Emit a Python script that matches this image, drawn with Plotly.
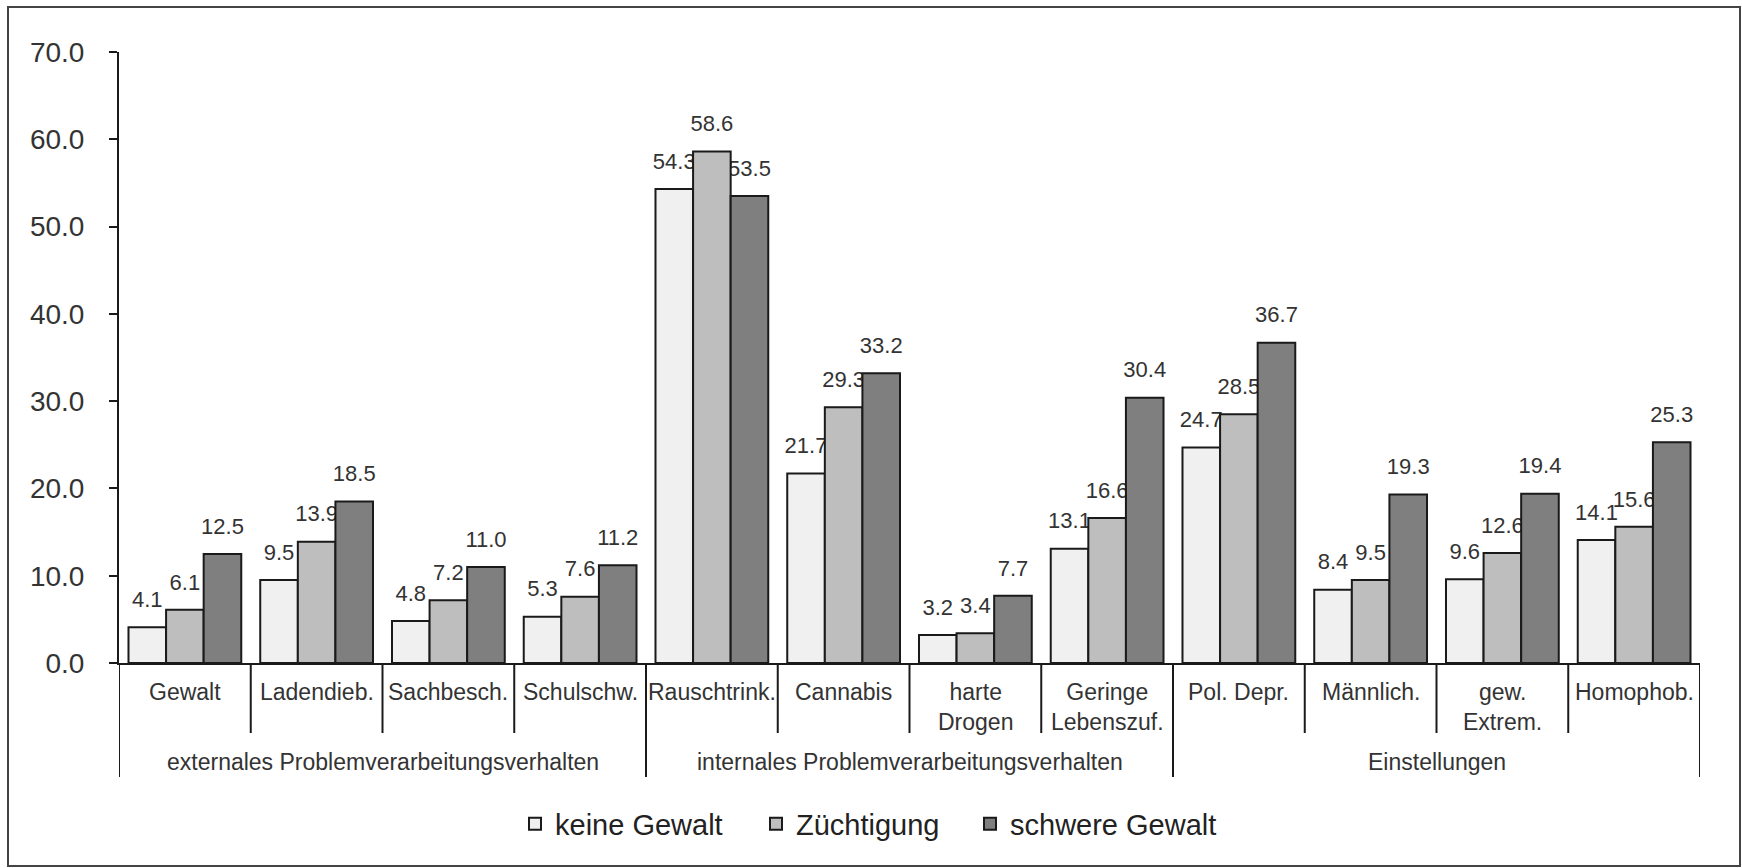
import plotly.graph_objects as go

# ---- data -------------------------------------------------------------
categories = [
    "Gewalt", "Ladendieb.", "Sachbesch.", "Schulschw.",
    "Rauschtrink.", "Cannabis", "harte Drogen", "Geringe Lebenszuf.",
    "Pol. Depr.", "Männlich.", "gew. Extrem.", "Homophob.",
]
category_labels = [
    "Gewalt", "Ladendieb.", "Sachbesch.", "Schulschw.",
    "Rauschtrink.", "Cannabis", "harte<br>Drogen", "Geringe<br>Lebenszuf.",
    "Pol. Depr.", "Männlich.", "gew.<br>Extrem.", "Homophob.",
]
groups = [
    "externales Problemverarbeitungsverhalten",
    "internales Problemverarbeitungsverhalten",
    "Einstellungen",
]
group_sizes = [4, 4, 4]

series_names = ["keine Gewalt", "Züchtigung", "schwere Gewalt"]
keine_gewalt = [4.1, 9.5, 4.8, 5.3, 54.3, 21.7, 3.2, 13.1, 24.7, 8.4, 9.6, 14.1]
zuechtigung = [6.1, 13.9, 7.2, 7.6, 58.6, 29.3, 3.4, 16.6, 28.5, 9.5, 12.6, 15.6]
schwere_gewalt = [12.5, 18.5, 11.0, 11.2, 53.5, 33.2, 7.7, 30.4, 36.7, 19.3, 19.4, 25.3]

y_ticks = [0, 10, 20, 30, 40, 50, 60, 70]

# ---- geometry / style -------------------------------------------------
W, H = 1742, 868
PLOT_L, PLOT_R, PLOT_T, PLOT_B = 119, 1700, 52, 663


def py(p):
    """pixel row -> paper y"""
    return (PLOT_B - p) / (PLOT_B - PLOT_T)


def px(p):
    """pixel column -> paper x"""
    return (p - PLOT_L) / (PLOT_R - PLOT_L)


FONT = "Liberation Sans, Arial, sans-serif"
TEXT = "#333333"
OUTLINE = "#1a1a1a"
FILLS = ["#f0f0f0", "#bebebe", "#7f7f7f"]
BARGAP = 0.144
LEGEND_IDS = ["legend", "legend2", "legend3"]
LEGEND_LEFT = [515, 756, 970]  # pixel column of each legend entry

series = [keine_gewalt, zuechtigung, schwere_gewalt]

fig = go.Figure()

# value labels live on the base axes so the bars (overlay axes) sit on top
for name, vals in zip(series_names, series):
    fig.add_trace(go.Scatter(
        x=categories, y=vals,
        mode="markers+text",
        text=[f"{v:.1f}" for v in vals],
        textposition="top center",
        textfont=dict(size=22, color=TEXT, family=FONT),
        marker=dict(size=22, color="rgba(0,0,0,0)"),
        offsetgroup=name, alignmentgroup="labels",
        showlegend=False, hoverinfo="skip", cliponaxis=False,
    ))

for name, vals, fill, leg in zip(series_names, series, FILLS, LEGEND_IDS):
    fig.add_trace(go.Bar(
        x=categories, y=vals, name=name,
        marker=dict(color=fill, line=dict(color=OUTLINE, width=2)),
        offsetgroup=name, alignmentgroup="bars",
        xaxis="x2", yaxis="y2", legend=leg,
    ))

# category / group separators below the axis
shapes = []
group_edges = [0]
for s in group_sizes:
    group_edges.append(group_edges[-1] + s)
for k in range(len(categories) + 1):
    long_line = k in group_edges
    shapes.append(dict(
        type="line", xref="x", yref="paper",
        x0=k - 0.5, x1=k - 0.5, y0=0, y1=py(777 if long_line else 733),
        line=dict(color=OUTLINE, width=2),
    ))
# outer frame
shapes.append(dict(
    type="rect", xref="paper", yref="paper",
    x0=px(8), x1=px(1740), y0=py(866), y1=py(7),
    line=dict(color="#444444", width=2), fillcolor="rgba(0,0,0,0)", layer="below",
))

annotations = []
for i, lab in enumerate(category_labels):
    annotations.append(dict(
        x=i, xref="x", y=py(677), yref="paper", yanchor="top",
        text=lab, showarrow=False, align="center",
        font=dict(size=23, color=TEXT, family=FONT),
    ))
for g, name in enumerate(groups):
    centre = (group_edges[g] + group_edges[g + 1] - 1) / 2
    annotations.append(dict(
        x=centre, xref="x", y=py(762), yref="paper", yanchor="middle",
        text=name, showarrow=False,
        font=dict(size=23, color=TEXT, family=FONT),
    ))

legends = {}
for leg, left in zip(LEGEND_IDS, LEGEND_LEFT):
    legends[leg] = dict(
        orientation="h", x=px(left), xanchor="left", y=py(824), yanchor="middle",
        font=dict(size=29, color="#222222", family=FONT),
        bgcolor="rgba(0,0,0,0)",
    )

fig.update_layout(
    width=W, height=H,
    margin=dict(l=PLOT_L, r=W - PLOT_R, t=PLOT_T, b=H - PLOT_B, pad=0),
    paper_bgcolor="white", plot_bgcolor="white",
    barmode="group", bargap=BARGAP, bargroupgap=0,
    scattermode="group", scattergap=BARGAP,
    font=dict(family=FONT, color=TEXT),
    showlegend=True,
    xaxis=dict(
        type="category", categoryorder="array", categoryarray=categories,
        range=[-0.5, len(categories) - 0.5],
        showticklabels=False, ticks="", showgrid=False, zeroline=False,
        showline=True, linecolor=OUTLINE, linewidth=2,
    ),
    yaxis=dict(
        range=[0, 70], tickvals=y_ticks, tickformat=".1f",
        ticks="outside", ticklen=8, tickwidth=2, tickcolor=OUTLINE,
        showline=True, linecolor=OUTLINE, linewidth=2,
        showgrid=False, zeroline=False,
        tickfont=dict(size=28, color=TEXT, family=FONT),
        ticklabelstandoff=19,
    ),
    xaxis2=dict(
        type="category", categoryorder="array", categoryarray=categories,
        range=[-0.5, len(categories) - 0.5], overlaying="x", visible=False,
    ),
    yaxis2=dict(range=[0, 70], overlaying="y", visible=False),
    shapes=shapes,
    annotations=annotations,
    **legends,
)

fig.write_html("out.html")
